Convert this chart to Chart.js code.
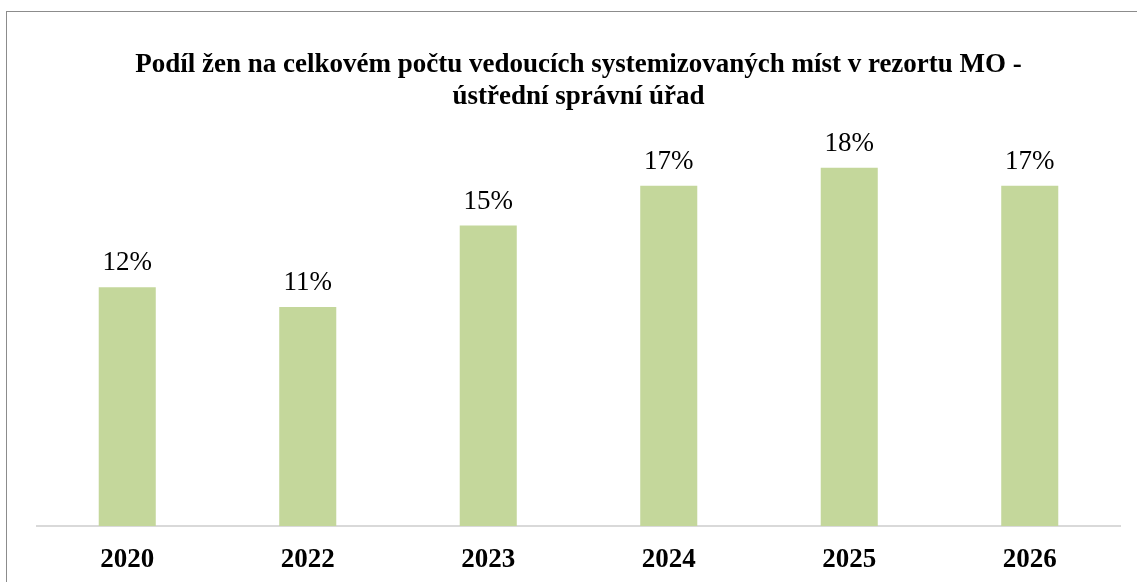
<!DOCTYPE html>
<html>
<head>
<meta charset="utf-8">
<script src="https://cdn.jsdelivr.net/npm/chart.js@4"></script>
<style>
  html, body { margin: 0; padding: 0; overflow: hidden; background: #fff; }
  #frame { position: absolute; left: 6px; top: 11px; width: 1200px; height: 700px; border: 1px solid #8c8c8c; }
  #wrap { position: absolute; left: 0; top: 0; width: 1137px; height: 582px; }
</style>
</head>
<body>
<div id="frame"></div>
<div id="wrap"><canvas id="chart"></canvas></div>
<script>
const years = ["2020", "2022", "2023", "2024", "2025", "2026"]
const shares = [0.12, 0.11, 0.151, 0.171, 0.18, 0.171]
const titleLines = [
  "Podíl žen na celkovém počtu vedoucích systemizovaných míst v rezortu MO -",
  "ústřední správní úřad"
]

const serif = "'Liberation Serif', 'Times New Roman', serif"

// draws the percent above each bar
const valueLabels = {
  id: "valueLabels",
  afterDatasetsDraw(chart) {
    const { ctx } = chart
    const meta = chart.getDatasetMeta(0)
    ctx.save()
    ctx.fillStyle = "#000"
    ctx.font = "27px " + serif
    ctx.textAlign = "center"
    ctx.textBaseline = "alphabetic"
    meta.data.forEach((bar, i) => {
      ctx.fillText(Math.round(shares[i] * 100) + "%", bar.x, bar.y - 17)
    })
    ctx.restore()
  }
}

new Chart(document.getElementById("chart"), {
  type: "bar",
  data: {
    labels: years,
    datasets: [{
      data: shares,
      backgroundColor: "#c4d79b",
      borderWidth: 0,
      categoryPercentage: 1,
      barPercentage: 0.316
    }]
  },
  options: {
    responsive: true,
    maintainAspectRatio: false,
    animation: false,
    layout: { padding: { left: 37, right: 17, top: 49, bottom: 0 } },
    plugins: {
      legend: { display: false },
      tooltip: { enabled: false },
      title: {
        display: true,
        text: titleLines,
        color: "#000",
        font: { family: serif, size: 27, weight: "bold", lineHeight: 1.185 },
        padding: { top: 0, bottom: 15 }
      }
    },
    scales: {
      y: { display: false, min: 0, max: 0.2 },
      x: {
        grid: { display: false, drawTicks: false },
        border: { color: "#d9d9d9", width: 2 },
        ticks: {
          color: "#000",
          padding: 18,
          font: { family: serif, size: 27, weight: "bold" }
        },
        afterFit(scale) { scale.height = 56 }
      }
    }
  },
  plugins: [valueLabels]
})
</script>
</body>
</html>
